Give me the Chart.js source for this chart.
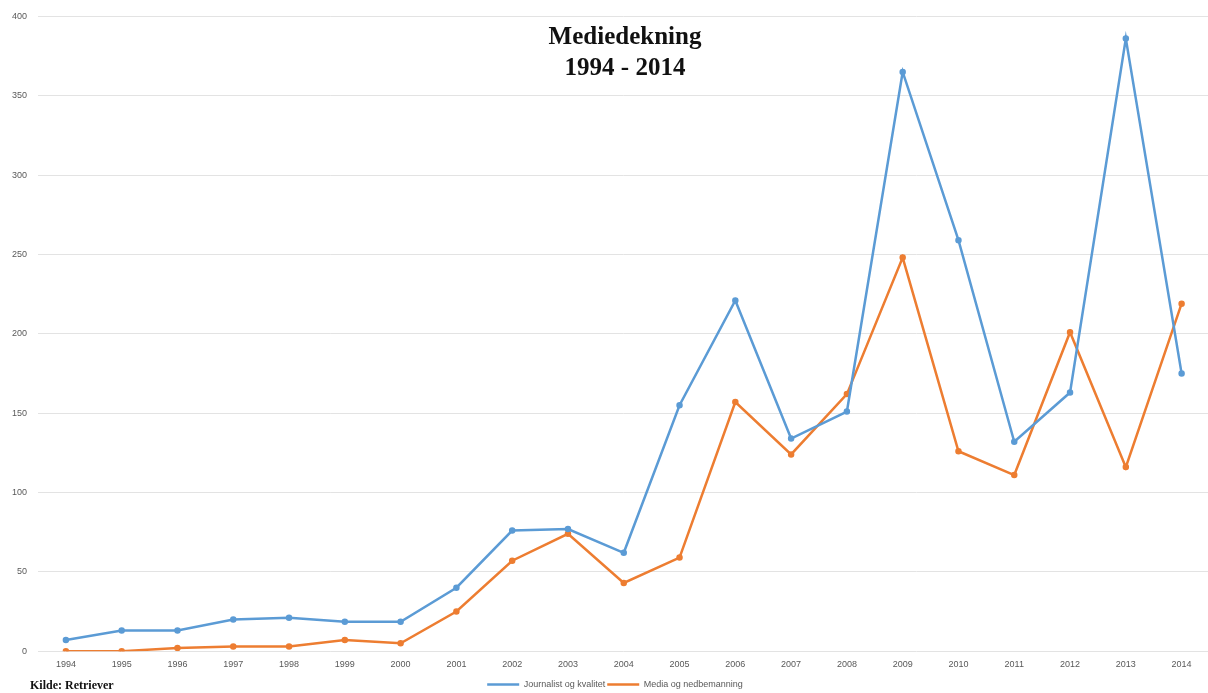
<!DOCTYPE html>
<html>
<head>
<meta charset="utf-8">
<script src="https://cdn.jsdelivr.net/npm/chart.js@4/dist/chart.umd.min.js"></script>
<style>
  html, body { margin: 0; padding: 0; background: #fff; overflow: hidden; }
  #wrap { position: relative; width: 1208px; height: 693px; overflow: hidden; }
  #title { position: absolute; left: 0; width: 1250px; top: 20px; text-align: center;
    font-family: "Liberation Serif", "DejaVu Serif", serif; font-weight: bold; font-size: 25px; line-height: 31px; color: #111; }
  #src { position: absolute; left: 30px; top: 678px; font-family: "Liberation Serif", serif; font-weight: bold; font-size: 12px; color: #111; }
</style>
</head>
<body>
<div id="wrap">
  <canvas id="c" width="1214" height="699"></canvas>
  <div id="title">Mediedekning<br>1994 - 2014</div>
  <div id="src">Kilde: Retriever</div>
</div>
<script>
const years = ["1994","1995","1996","1997","1998","1999","2000","2001","2002","2003","2004","2005","2006","2007","2008","2009","2010","2011","2012","2013","2014"];
const journalistOgKvalitet = [7, 13, 13, 20, 21, 18.5, 18.5, 40, 76, 77, 62, 155, 221, 134, 151, 365, 259, 132, 163, 386, 175];
const mediaOgNedbemanning = [0, 0, 2, 3, 3, 7, 5, 25, 57, 74, 43, 59, 157, 124, 162, 248, 126, 111, 201, 116, 219];
const yTicks = [0, 50, 100, 150, 200, 250, 300, 350, 400];

const shiftLegend = {
  id: 'shiftLegend',
  afterLayout(chart) {
    if (chart.legend) { chart.legend.left += 8; chart.legend.right += 8; }
  }
};

new Chart(document.getElementById('c'), {
  type: 'line',
  data: {
    labels: years,
    datasets: [
      { label: 'Journalist og kvalitet', data: journalistOgKvalitet, borderColor: '#5B9BD5', backgroundColor: '#5B9BD5',
        borderWidth: 2.5, pointRadius: 2, pointHoverRadius: 2, tension: 0 },
      { label: 'Media og nedbemanning', data: mediaOgNedbemanning, borderColor: '#ED7D31', backgroundColor: '#ED7D31',
        borderWidth: 2.5, pointRadius: 2, pointHoverRadius: 2, tension: 0 }
    ]
  },
  plugins: [shiftLegend],
  options: {
    responsive: false,
    animation: false,
    layout: { padding: { top: 12, right: 0, bottom: 0, left: 0 } },
    plugins: {
      title: { display: false },
      tooltip: { enabled: false },
      legend: {
        position: 'bottom',
        labels: {
          usePointStyle: true, pointStyle: 'line', pointStyleWidth: 32,
          color: '#595959', font: { family: 'Liberation Sans, Arial, sans-serif', size: 9 },
          padding: 2, boxHeight: 6
        }
      }
    },
    scales: {
      x: {
        offset: true,
        grid: { display: false, drawTicks: false },
        border: { display: false },
        ticks: { color: '#595959', font: { family: 'Liberation Sans, Arial, sans-serif', size: 9 }, padding: 8, maxRotation: 0, autoSkip: false }
      },
      y: {
        min: 0, max: 400,
        afterBuildTicks: (s) => { s.ticks = yTicks.map(v => ({ value: v })); },
        afterFit: (s) => { s.width = 38; },
        grid: { color: '#e3e3e3', lineWidth: 1, drawTicks: false },
        border: { display: false },
        ticks: { color: '#595959', font: { family: 'Liberation Sans, Arial, sans-serif', size: 9 }, padding: 11 }
      }
    }
  }
});
</script>
</body>
</html>
